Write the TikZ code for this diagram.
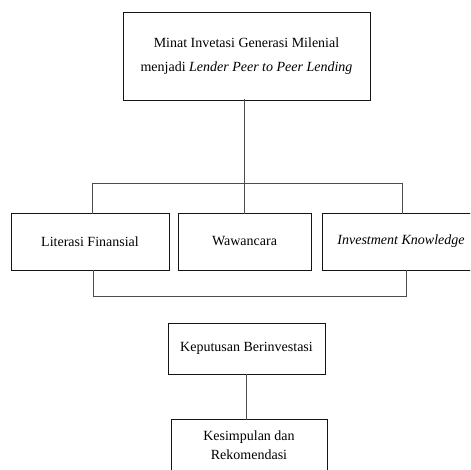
\documentclass[tikz,border=0pt]{standalone}
\usepackage{fontspec}
\setmainfont{Liberation Serif}
\usetikzlibrary{positioning}
\definecolor{AlurInk}{gray}{0.08}
\definecolor{AlurLink}{gray}{0.3}
\tikzset{
    alur/diagram/.style={
        x=1pt, y=-1pt,
        font=\fontsize{14}{16}\selectfont,
        line cap=rect,
        every node/.style={inner sep=2pt, outer sep=0pt}
    },
    alur/box/.style={draw=AlurInk, line width=0.8pt, align=center, fill=white},
    alur/link/.style={draw=AlurLink, line width=1pt}
}

\begin{document}
\begin{tikzpicture}[alur/diagram]
    \useasboundingbox (0,0) rectangle (470,470);
    \clip (0,0) rectangle (470,470);
    % kotak utama
    \node[alur/box, minimum width=247pt, minimum height=88pt,
          font=\fontsize{14}{24}\selectfont] (Minat) at (246.5,56)
        {Minat Invetasi Generasi Milenial\\menjadi \textit{Lender Peer to Peer Lending}};
    % tiga variabel
    \node[alur/box, minimum width=158pt, minimum height=57pt] (Literasi) at (90,241.5) {Literasi Finansial};
    \node[alur/box, minimum width=133pt, minimum height=57pt] (Wawancara) at (244.5,241.5) {Wawancara};
    \node[alur/box, minimum width=158pt, minimum height=57pt] (Knowledge) at (401,241.5) {\textit{Investment Knowledge}};
    % hasil
    \node[alur/box, minimum width=157pt, minimum height=51pt] (Keputusan) at (246.5,348.5) {Keputusan Berinvestasi};
    \node[alur/box, minimum width=156pt, minimum height=53pt,
          font=\fontsize{14}{19}\selectfont] (Kesimpulan) at (249,445.5)
        {Kesimpulan dan\\Rekomendasi};
    % garis penghubung
    \coordinate (TopL) at (92,184);
    \coordinate (TopR) at (402,184);
    \coordinate (BaseL) at (93,296);
    \coordinate (BaseR) at (406,296);
    \draw[alur/link] (Minat.south -| Wawancara.north) -- (Wawancara.north);
    \draw[alur/link] (Literasi.north -| TopL) -- (TopL) -- (TopR) -- (Knowledge.north -| TopR);
    \draw[alur/link] (Literasi.south -| BaseL) -- (BaseL) -- (BaseR) -- (Knowledge.south -| BaseR);
    \draw[alur/link] (Keputusan.south) -- (Keputusan.south |- Kesimpulan.north);
\end{tikzpicture}
\end{document}
